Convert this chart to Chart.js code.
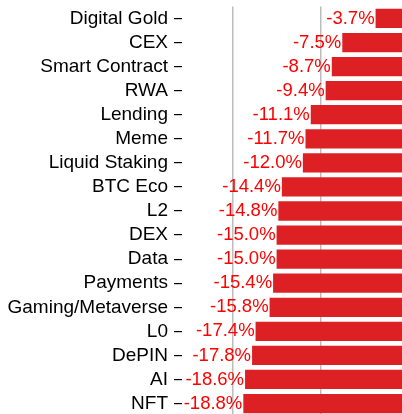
<!DOCTYPE html>
<html>
<head>
<meta charset="utf-8">
<script src="https://cdn.jsdelivr.net/npm/chart.js@4/dist/chart.umd.min.js"></script>
<style>
  html, body { margin: 0; padding: 0; overflow: hidden; background: #fff; }
  #wrap { position: absolute; left: 0; top: -11px; width: 410px; height: 444px; }
</style>
</head>
<body>
<div id="wrap"><canvas id="myChart"></canvas></div>
<script>
const categories = ['Digital Gold', 'CEX', 'Smart Contract', 'RWA', 'Lending', 'Meme', 'Liquid Staking',
  'BTC Eco', 'L2', 'DEX', 'Data', 'Payments', 'Gaming/Metaverse', 'L0', 'DePIN', 'AI', 'NFT'];
const changes = [-3.7, -7.5, -8.7, -9.4, -11.1, -11.7, -12.0, -14.4, -14.8, -15.0, -15.0, -15.4, -15.8, -17.4, -17.8, -18.6, -18.8];
const gridTicks = [-20, -10];

// red percentage text just left of each bar
const valueLabels = {
    id: 'valueLabels',
    afterDatasetsDraw(chart) {
        const ctx = chart.ctx;
        const meta = chart.getDatasetMeta(0);
        ctx.save();
        ctx.font = '18.5px "Liberation Sans", Arial, sans-serif';
        ctx.fillStyle = '#ff0000';
        ctx.textAlign = 'right';
        ctx.textBaseline = 'middle';
        meta.data.forEach((bar, i) => {
            ctx.fillText(changes[i].toFixed(1) + '%', bar.x - 1, bar.y);
        });
        ctx.restore();
    }
};

let ctx = document.getElementById('myChart').getContext('2d');

let myChart = new Chart(ctx, {
    type: 'bar',
    data: {
        labels: categories,
        datasets: [{
            data: changes,
            backgroundColor: '#dd2024',
            borderWidth: 0,
            barPercentage: 1,
            categoryPercentage: 0.8
        }]
    },
    options: {
        indexAxis: 'y',
        responsive: true,
        maintainAspectRatio: false,
        animation: false,
        layout: { padding: { top: 5, bottom: 2, left: 0, right: 0 } },
        plugins: {
            legend: { display: false },
            tooltip: { enabled: false }
        },
        scales: {
            x: {
                min: -25.8,
                max: 0.23,
                z: 1,
                afterBuildTicks: (scale) => { scale.ticks = gridTicks.map(v => ({ value: v })); },
                ticks: { display: false },
                grid: { color: '#bdbdbd', lineWidth: 1.5, drawTicks: false },
                border: { display: false }
            },
            y: {
                afterFit: (scale) => { scale.width = 182; },
                ticks: {
                    color: '#000',
                    padding: 6,
                    autoSkip: false,
                    font: { family: '"Liberation Sans", Arial, sans-serif', size: 19 }
                },
                grid: { offset: false, drawOnChartArea: false, drawTicks: true, tickLength: 8, tickColor: '#000', lineWidth: 1.2 },
                border: { display: false }
            }
        }
    },
    plugins: [valueLabels]
});
</script>
</body>
</html>
